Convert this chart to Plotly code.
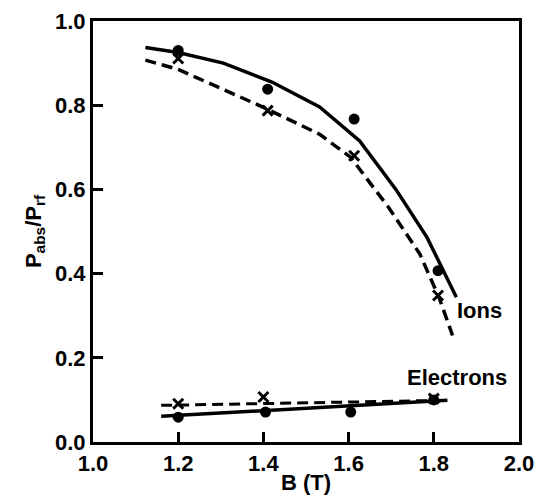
import plotly.graph_objects as go

# Ion curves (model)
ion_solid_x = [1.123, 1.2, 1.306, 1.42, 1.532, 1.626, 1.711, 1.784, 1.853]
ion_solid_y = [0.937, 0.925, 0.900, 0.855, 0.796, 0.715, 0.600, 0.486, 0.344]
ion_dash_x = [1.123, 1.2, 1.4, 1.532, 1.605, 1.694, 1.767, 1.812, 1.844]
ion_dash_y = [0.907, 0.885, 0.795, 0.731, 0.676, 0.557, 0.447, 0.344, 0.253]
# Ion data points
ion_circ_x = [1.2, 1.41, 1.613, 1.81]
ion_circ_y = [0.93, 0.838, 0.767, 0.407]
ion_cross_x = [1.2, 1.41, 1.613, 1.81]
ion_cross_y = [0.911, 0.787, 0.68, 0.348]
# Electron curves
el_solid_x = [1.16, 1.832]
el_solid_y = [0.061, 0.099]
el_dash_x = [1.16, 1.832]
el_dash_y = [0.087, 0.099]
# Electron data points
el_circ_x = [1.2, 1.405, 1.605, 1.8]
el_circ_y = [0.059, 0.071, 0.071, 0.100]
el_cross_x = [1.2, 1.40, 1.8]
el_cross_y = [0.091, 0.107, 0.103]

tick_vals_x = [1.0, 1.2, 1.4, 1.6, 1.8, 2.0]
tick_text_x = ["1.0", "1.2", "1.4", "1.6", "1.8", "2.0"]
tick_vals_y = [0.0, 0.2, 0.4, 0.6, 0.8, 1.0]
tick_text_y = ["0.0", "0.2", "0.4", "0.6", "0.8", "1.0"]

FONT = "Liberation Sans Narrow, Liberation Sans, Arial, sans-serif"
FS = 22

fig = go.Figure()
DASH = "11px,6px"
fig.add_trace(go.Scatter(x=ion_solid_x, y=ion_solid_y, mode="lines", line=dict(color="black", width=3.5)))
fig.add_trace(go.Scatter(x=ion_dash_x, y=ion_dash_y, mode="lines", line=dict(color="black", width=3.5, dash=DASH)))
fig.add_trace(go.Scatter(x=el_solid_x, y=el_solid_y, mode="lines", line=dict(color="black", width=3.5)))
fig.add_trace(go.Scatter(x=el_dash_x, y=el_dash_y, mode="lines", line=dict(color="black", width=3, dash=DASH)))
for xs, ys in [(ion_circ_x, ion_circ_y), (el_circ_x, el_circ_y)]:
    fig.add_trace(go.Scatter(x=xs, y=ys, mode="markers",
                             marker=dict(symbol="circle", size=11, color="black")))
for xs, ys in [(ion_cross_x, ion_cross_y), (el_cross_x, el_cross_y)]:
    fig.add_trace(go.Scatter(x=xs, y=ys, mode="markers",
                             marker=dict(symbol="x-thin", size=10, color="black",
                                         line=dict(color="black", width=3))))

fig.add_annotation(x=1.908, y=0.313, text="<b>Ions</b>", showarrow=False,
                   font=dict(family=FONT, size=FS, color="black"))
fig.add_annotation(x=1.854, y=0.154, text="<b>Electrons</b>", showarrow=False,
                   font=dict(family=FONT, size=FS, color="black"))

fig.update_layout(
    width=534, height=495,
    margin=dict(l=93, r=15, t=21, b=53, autoexpand=False),
    paper_bgcolor="white", plot_bgcolor="white",
    showlegend=False,
    font=dict(family=FONT, size=FS, color="black"),
)
fig.update_xaxes(range=[1.0, 2.0], tickvals=tick_vals_x,
                 ticktext=["<b>%s</b>" % t for t in tick_text_x],
                 ticks="inside", ticklen=10, tickwidth=2.5, tickcolor="black",
                 showline=True, linecolor="black", linewidth=3, mirror=True,
                 showgrid=False, zeroline=False, automargin=False,
                 ticklabeloverflow="allow",
                 title=dict(text="<b>B (T)</b>", standoff=0, font=dict(size=FS)))
fig.update_yaxes(range=[0.0, 1.0], tickvals=tick_vals_y,
                 ticktext=["<b>%s</b>" % t for t in tick_text_y],
                 ticks="inside", ticklen=10, tickwidth=2.5, tickcolor="black",
                 showline=True, linecolor="black", linewidth=3, mirror=True,
                 showgrid=False, zeroline=False, automargin=False,
                 ticklabeloverflow="allow",
                 title=dict(text="<b>P<sub>abs</sub>/P<sub>rf</sub></b>", standoff=8, font=dict(size=22)))

fig.write_html("out.html", config={"displayModeBar": False},
               post_script="document.body.style.margin='0';document.body.style.overflow='hidden';")
